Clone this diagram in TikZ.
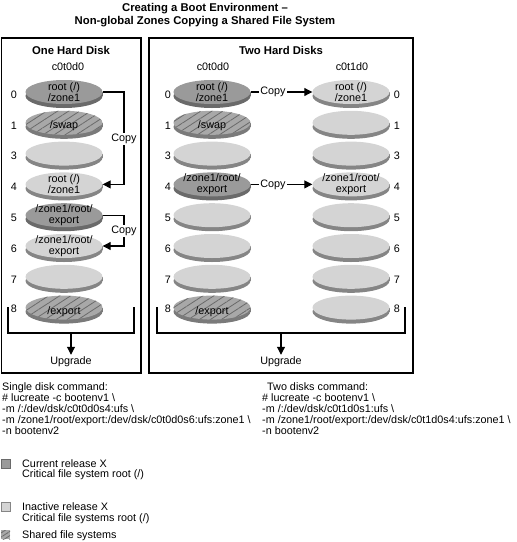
\documentclass[tikz,border=0pt]{standalone}
\usepackage{fontspec}
\setmainfont{Liberation Sans}
\usetikzlibrary{shapes.geometric,arrows.meta,patterns.meta}
\definecolor{darkface}{HTML}{9A9A9A}
\definecolor{darkrim}{HTML}{6A6A6A}
\definecolor{lightface}{HTML}{D4D4D4}
\definecolor{lightrim}{HTML}{858585}
\definecolor{hatchface}{HTML}{A8A8A8}
\definecolor{hatchrim}{HTML}{7A7A7A}
\definecolor{hatchline}{HTML}{6A6A6A}
\newcommand{\bodyfont}{\fontsize{10.8}{11}\selectfont}
\newcommand{\headfont}{\fontsize{11.3}{13}\selectfont\bfseries}
\newcommand{\mkdisk}[6]{%
  \fill[#4rim] (#2-38.5,#3) rectangle (#2+38.5,#3+4);
  \fill[#4rim] (#2,#3+4) ellipse [x radius=38.5, y radius=12];
  \node[disk#4] (#1) at (#2,#3) {};
  \node[disktext] (#1t) at (#2,#3+#6) {#5};
}
\tikzset{
  diskbase/.style={ellipse, minimum width=77pt, minimum height=24pt, inner sep=0pt},
  diskdark/.style={diskbase, fill=darkface},
  disklight/.style={diskbase, fill=lightface},
  diskhatch/.style={diskbase, preaction={fill=hatchface},
     pattern={Lines[angle=33,distance=6pt,line width=0.8pt]}, pattern color=hatchline},
  disktext/.style={font=\bodyfont, align=center, inner sep=0pt},
  num/.style={font=\bodyfont, inner sep=0pt},
  head/.style={font=\headfont, inner sep=0pt},
  plain/.style={font=\bodyfont, inner sep=0pt},
  cmd/.style={font=\bodyfont, inner sep=0pt, anchor=base west},
  copylbl/.style={font=\bodyfont, fill=white, inner sep=1.2pt},
  frame/.style={draw=black, line width=1.2pt},
  conn/.style={draw=black, line width=1.1pt},
  arr/.style={conn, -{Triangle[length=8pt,width=8pt]}},
  legsq/.style={minimum size=9pt, inner sep=0pt},
}
\begin{document}
\begin{tikzpicture}[x=1pt,y=-1pt]
\useasboundingbox (0,0) rectangle (517,542);
% title
\node[head] (t1) at (205,8.5) {Creating a Boot Environment –};
\node[head] (t2) at (205,21.5) {Non-global Zones Copying a Shared File System};
% frames
\draw[frame] (1.2,38) rectangle (141,373);
\draw[frame] (149,38) rectangle (413,373);
\node[head] (h1) at (71,50) {One Hard Disk};
\node[plain] (d1) at (68,66.5) {c0t0d0};
\node[head] (h2) at (281,50) {Two Hard Disks};
\node[plain] (d2) at (213,67) {c0t0d0};
\node[plain] (d3) at (352,67) {c0t1d0};
% left box disks
\mkdisk{a0}{64}{92}{dark}{root (/)\\/zone1}{0}
\mkdisk{a1}{64}{122.8}{hatch}{/swap}{3}
\mkdisk{a3}{64}{153.6}{light}{}{0}
\mkdisk{a4}{64}{184.4}{light}{root (/)\\/zone1}{0}
\mkdisk{a5}{64}{215.2}{dark}{/zone1/root/\\export}{0}
\mkdisk{a6}{64}{246}{light}{/zone1/root/\\export}{0}
\mkdisk{a7}{64}{276.8}{light}{}{0}
\mkdisk{a8}{64}{307.6}{hatch}{/export}{4}
% right box, left column
\mkdisk{b0}{212}{92}{dark}{root (/)\\/zone1}{0}
\mkdisk{b1}{212}{122.8}{hatch}{/swap}{3}
\mkdisk{b3}{212}{153.6}{light}{}{0}
\mkdisk{b4}{212}{184.4}{dark}{/zone1/root/\\export}{0}
\mkdisk{b5}{212}{215.2}{light}{}{0}
\mkdisk{b6}{212}{246}{light}{}{0}
\mkdisk{b7}{212}{276.8}{light}{}{0}
\mkdisk{b8}{212}{307.6}{hatch}{/export}{4}
% right box, right column
\mkdisk{c0}{351}{92}{light}{root (/)\\/zone1}{0}
\mkdisk{c1}{351}{122.8}{light}{}{0}
\mkdisk{c3}{351}{153.6}{light}{}{0}
\mkdisk{c4}{351}{184.4}{light}{/zone1/root/\\export}{0}
\mkdisk{c5}{351}{215.2}{light}{}{0}
\mkdisk{c6}{351}{246}{light}{}{0}
\mkdisk{c7}{351}{276.8}{light}{}{0}
\mkdisk{c8}{351}{307.6}{light}{}{0}
% slice numbers
\foreach \s/\yy in {0/94.5,1/125.3,3/156.1,4/186.9,5/217.7,6/248.5,7/279.3,8/309}{
  \node[num] (na\s) at (14,\yy) {\s};
  \node[num] (nb\s) at (168,\yy) {\s};
  \node[num] (nc\s) at (397,\yy) {\s};
}
% left copies
\coordinate (cpx) at (124,0);
\draw[arr] (a0.east) -- (a0.east -| cpx) |- (a4.east);
\node[copylbl] (lc1) at (124,139) {Copy};
\draw[arr] (a5.east) -- (a5.east -| cpx) |- (a6.east);
\node[copylbl] (lc2) at (124,230.6) {Copy};
% right copies
\node[font=\bodyfont, inner sep=1.5pt] (rc1) at (273,92) {Copy};
\draw[conn] (b0.east) -- (rc1.west);
\draw[arr] (rc1.east) -- (c0.west);
\node[font=\bodyfont, inner sep=1.5pt] (rc2) at (273,184.4) {Copy};
\draw[conn] (b4.east) -- (rc2.west);
\draw[arr] (rc2.east) -- (c4.west);
% upgrade brackets
\coordinate (lbl) at (8,307);
\coordinate (lbr) at (134,307);
\draw[conn] (lbl) -- ++(0,26) -| (lbr);
\coordinate (lbm) at (71,333);
\node[font=\bodyfont, inner sep=2pt] (up1) at (71,362) {Upgrade};
\draw[arr] (lbm) -- (up1.north);
\coordinate (rbl) at (157,307);
\coordinate (rbr) at (405,307);
\draw[conn] (rbl) -- ++(0,26) -| (rbr);
\coordinate (rbm) at (281,333);
\node[font=\bodyfont, inner sep=2pt] (up2) at (281,362) {Upgrade};
\draw[arr] (rbm) -- (up2.north);
% commands
\node[cmd] (l1) at (2,390) {Single disk command:};
\node[cmd] (l2) at (2,401) {\# lucreate -c bootenv1 \textbackslash};
\node[cmd] (l3) at (2,412) {-m /:/dev/dsk/c0t0d0s4:ufs \textbackslash};
\node[cmd] (l4) at (2,423) {-m /zone1/root/export:/dev/dsk/c0t0d0s6:ufs:zone1 \textbackslash};
\node[cmd] (l5) at (2,434) {-n bootenv2};
\node[cmd] (r1) at (267,390) {Two disks command:};
\node[cmd] (r2) at (262,401) {\# lucreate -c bootenv1 \textbackslash};
\node[cmd] (r3) at (262,412) {-m /:/dev/dsk/c0t1d0s1:ufs \textbackslash};
\node[cmd] (r4) at (262,423) {-m /zone1/root/export:/dev/dsk/c0t1d0s4:ufs:zone1 \textbackslash};
\node[cmd] (r5) at (262,434) {-n bootenv2};
% legend
\node[legsq, fill=darkface, draw=darkrim, line width=0.8pt] (q1) at (5.5,463.5) {};
\node[cmd] (g1) at (22,467) {Current release X};
\node[cmd] (g2) at (22,477.5) {Critical file system root (/)};
\node[legsq, fill=lightface, draw=lightrim, line width=0.8pt] (q2) at (5.5,506.5) {};
\node[cmd] (g3) at (22,510) {Inactive release X};
\node[cmd] (g4) at (22,521) {Critical file systems root (/)};
\node[legsq, preaction={fill=hatchface}, pattern={Lines[angle=33,distance=3.5pt,line width=0.8pt]}, pattern color=hatchline] (q3) at (5.5,534.5) {};
\node[cmd] (g5) at (22,538) {Shared file systems};
\end{tikzpicture}
\end{document}
